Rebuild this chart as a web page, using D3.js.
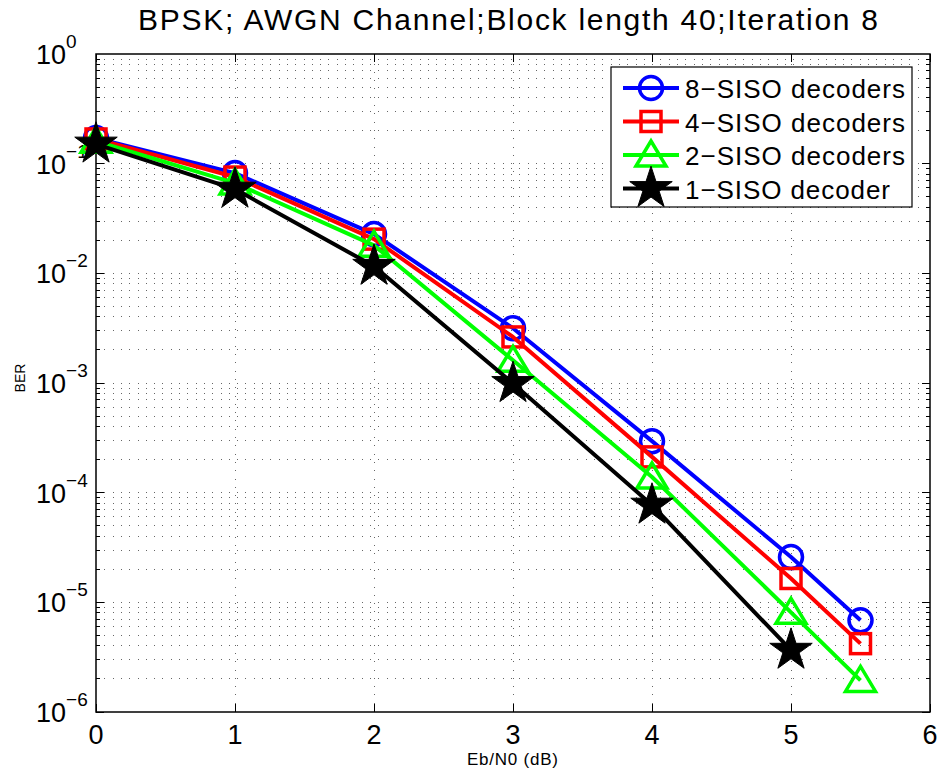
<!DOCTYPE html>
<html>
<head>
<meta charset="utf-8">
<script src="https://cdn.jsdelivr.net/npm/d3@7"></script>
<style>
  body { margin: 0; background: #fff; }
  text { font-family: "Liberation Sans", Arial, sans-serif; }
</style>
</head>
<body>
<div id="chart"></div>
<script>
const ebn0 = [0, 1, 2, 3, 4, 5, 5.5]
const ber8 = [0.171, 0.082, 0.0228, 0.00316, 2.95e-4, 2.59e-5, 6.85e-6]
const ber4 = [0.168, 0.0755, 0.0205, 0.00263, 2.12e-4, 1.65e-5, 4.2e-6]
const ber2 = [0.16, 0.0665, 0.018, 0.00161, 1.39e-4, 8.1e-6, 1.94e-6]
const ber1 = [0.151, 0.0586, 0.0116, 0.00099, 7.7e-5, 3.66e-6]
const seriesNames = ["8\u2212SISO decoders", "4\u2212SISO decoders", "2\u2212SISO decoders", "1\u2212SISO decoder"]
const xTicks = [0, 1, 2, 3, 4, 5, 6]
const yExps = [0, -1, -2, -3, -4, -5, -6]

const width = 940, height = 772
const m = { left: 96, right: 10, top: 54, bottom: 60 }

const svg = d3.select("#chart").append("svg")
    .attr("width", width).attr("height", height)

const x = d3.scaleLinear().domain([0, 6]).range([m.left, width - m.right])
const y = d3.scaleLog().domain([1e-6, 1]).range([height - m.bottom, m.top])

const series = [
  { name: seriesNames[0], vals: ber8, color: "#0000ff", marker: "circle", tl: 220 },
  { name: seriesNames[1], vals: ber4, color: "#ff0000", marker: "square", tl: 220 },
  { name: seriesNames[2], vals: ber2, color: "#00ff00", marker: "triangle", tl: 220 },
  { name: seriesNames[3], vals: ber1, color: "#000000", marker: "star", tl: 205 }
]

// grid
const grid = svg.append("g").attr("stroke", "#666").attr("stroke-width", 1)
    .attr("stroke-dasharray", "1,7.3").attr("shape-rendering", "crispEdges")
xTicks.slice(1, -1).forEach(t => {
  grid.append("line").attr("x1", x(t)).attr("x2", x(t))
      .attr("y1", y.range()[0]).attr("y2", y.range()[1])
})
const minorY = []
for (let e = -6; e < 0; e++) for (let k = 1; k < 10; k++) minorY.push(k * Math.pow(10, e))
minorY.filter(v => v > 1e-6).forEach(v => {
  grid.append("line").attr("x1", x.range()[0]).attr("x2", x.range()[1])
      .attr("y1", y(v)).attr("y2", y(v))
})

// ticks inside
const ticks = svg.append("g").attr("stroke", "#000").attr("stroke-width", 1)
    .attr("shape-rendering", "crispEdges")
xTicks.forEach(t => {
  ticks.append("line").attr("x1", x(t)).attr("x2", x(t)).attr("y1", y.range()[0]).attr("y2", y.range()[0] - 8)
  ticks.append("line").attr("x1", x(t)).attr("x2", x(t)).attr("y1", y.range()[1]).attr("y2", y.range()[1] + 8)
})
minorY.forEach(v => {
  const len = (Math.abs(Math.log10(v) - Math.round(Math.log10(v))) < 1e-9) ? 8 : 4
  ticks.append("line").attr("x1", x.range()[0]).attr("x2", x.range()[0] + len).attr("y1", y(v)).attr("y2", y(v))
  ticks.append("line").attr("x1", x.range()[1]).attr("x2", x.range()[1] - len).attr("y1", y(v)).attr("y2", y(v))
})

// box
svg.append("rect").attr("x", x.range()[0]).attr("y", y.range()[1])
    .attr("width", x.range()[1] - x.range()[0]).attr("height", y.range()[0] - y.range()[1])
    .attr("fill", "none").attr("stroke", "#000").attr("stroke-width", 1.5)

// tick labels
svg.append("g").selectAll("text").data(xTicks).join("text")
    .attr("x", d => x(d)).attr("y", y.range()[0] + 32)
    .attr("text-anchor", "middle").attr("font-size", 27).text(d => d)

const yl = svg.append("g").selectAll("text").data(yExps).join("text")
    .attr("x", 36).attr("y", d => y(Math.pow(10, d)) + 10)
    .attr("font-size", 27)
yl.append("tspan").text("10")
yl.append("tspan").attr("dy", -16).attr("font-size", 19)
    .text(d => d === 0 ? "0" : "\u2212" + Math.abs(d))

// titles
svg.append("text").attr("x", 138).attr("y", 30)
    .attr("font-size", 30).attr("textLength", 740).attr("lengthAdjust", "spacing")
    .text("BPSK; AWGN Channel;Block length 40;Iteration 8")
svg.append("text").attr("x", 467).attr("y", 765)
    .attr("font-size", 17).attr("textLength", 91).attr("lengthAdjust", "spacing")
    .text("Eb/N0 (dB)")
svg.append("text").attr("transform", "translate(25,378) rotate(-90)").attr("text-anchor", "middle")
    .attr("font-size", 14).text("BER")

// markers
function drawMarker(g, type, cx, cy, color) {
  if (type === "circle") {
    g.append("circle").attr("cx", cx).attr("cy", cy).attr("r", 11.5)
        .attr("fill", "none").attr("stroke", color).attr("stroke-width", 3.5)
  } else if (type === "square") {
    g.append("rect").attr("x", cx - 10).attr("y", cy - 10).attr("width", 20).attr("height", 20)
        .attr("fill", "none").attr("stroke", color).attr("stroke-width", 3.5)
  } else if (type === "triangle") {
    g.append("path").attr("d", `M${cx},${cy - 14}L${cx + 15},${cy + 11}L${cx - 15},${cy + 11}Z`)
        .attr("fill", "none").attr("stroke", color).attr("stroke-width", 3.5)
  } else {
    g.append("path").attr("d", d3.symbol(d3.symbolStar, 560)())
        .attr("transform", `translate(${cx},${cy})`).attr("fill", color).attr("stroke", color)
  }
}

const line = d3.line().x(d => x(d[0])).y(d => y(d[1]))
const plot = svg.append("g")
series.forEach(s => {
  const pts = s.vals.map((v, i) => [ebn0[i], v])
  const g = plot.append("g")
  g.append("path").attr("d", line(pts)).attr("fill", "none")
      .attr("stroke", s.color).attr("stroke-width", 4).attr("stroke-linejoin", "round")
  pts.forEach(p => drawMarker(g, s.marker, x(p[0]), y(p[1]), s.color))
})

// legend
const lg = svg.append("g").attr("transform", "translate(611,67)")
lg.append("rect").attr("width", 301).attr("height", 140).attr("fill", "#fff")
    .attr("stroke", "#000").attr("stroke-width", 1.2)
series.forEach((s, i) => {
  const cy = 21 + i * 33.5
  lg.append("line").attr("x1", 12).attr("x2", 68).attr("y1", cy).attr("y2", cy)
      .attr("stroke", s.color).attr("stroke-width", 4)
  drawMarker(lg, s.marker, 40, cy, s.color)
  lg.append("text").attr("x", 74).attr("y", cy + 10).attr("font-size", 26)
      .attr("textLength", s.tl).attr("lengthAdjust", "spacing").text(s.name)
})
</script>
</body>
</html>
